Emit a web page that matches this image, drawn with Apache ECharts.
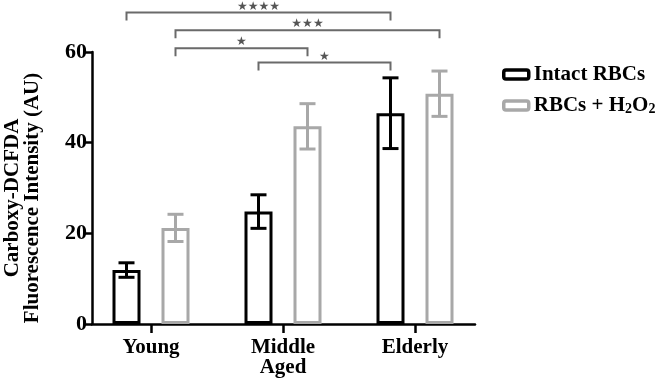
<!DOCTYPE html>
<html>
<head>
<meta charset="utf-8">
<script src="https://cdn.jsdelivr.net/npm/echarts@6/dist/echarts.min.js"></script>
<style>html,body{margin:0;padding:0;background:#fff}#c{width:665px;height:384px}</style>
</head>
<body>
<div id="c"></div>
<script>
// ---- data ----
const categories = ['Young', 'Middle\nAged', 'Elderly'];
const seriesNames = ['Intact RBCs', 'RBCs + H2O2'];
const intactMean = [11.9, 24.8, 46.5];
const intactErr = [1.6, 3.7, 7.8];
const h2o2Mean = [21.2, 43.6, 50.8];
const h2o2Err = [3.0, 5.0, 5.0];
const yTicks = [0, 20, 40, 60];
// significance brackets: [groupA, seriesA, groupB, seriesB]
const sigPairs = [[0, 0, 2, 0], [0, 1, 2, 1], [0, 1, 1, 1], [1, 0, 2, 0]];
const sigLevels = [68.7, 64.8, 60.8, 57.7];
const sigLabels = ['★★★★', '★★★', '★', '★'];

// ---- styles ----
const FONT = '"Liberation Serif", "Times New Roman", serif';
const BLACK = '#000000';
const GREY = '#a8a8a8';
const BRACKET = '#6a6a6a';
const BAR_W = 28, BAR_OFF = 24.5;

const chart = echarts.init(document.getElementById('c'), null, {renderer: 'canvas'});

const errData = [];
for (let i = 0; i < categories.length; i++) {
  errData.push([i, intactMean[i], intactErr[i], 0]);
  errData.push([i, h2o2Mean[i], h2o2Err[i], 1]);
}
const sigData = sigPairs.map((p, i) => [p[0], sigLevels[i], p[1], p[2], p[3], i]);

const option = {
  animation: false,
  backgroundColor: '#fff',
  grid: [
    {left: 92, right: 190, top: 52, bottom: 60},
    {left: 85, width: 396, top: 52, bottom: 60}
  ],
  xAxis: [
    {gridIndex: 0, type: 'value', min: 0, max: 1,
     axisLine: {show: true, lineStyle: {color: BLACK, width: 2.5}},
     axisTick: {show: false}, axisLabel: {show: false}, splitLine: {show: false}},
    {gridIndex: 1, type: 'category', data: categories, boundaryGap: true,
     axisLine: {show: false},
     axisTick: {show: true, alignWithLabel: true, length: 9, lineStyle: {color: BLACK, width: 2.5}},
     axisLabel: {margin: 14, fontFamily: FONT, fontWeight: 'bold', fontSize: 21, lineHeight: 20, color: BLACK},
     splitLine: {show: false}}
  ],
  yAxis: [
    {gridIndex: 0, type: 'value', min: 0, max: 60, interval: 20,
     axisLine: {show: true, lineStyle: {color: BLACK, width: 2.5}},
     axisTick: {show: true, length: 8, lineStyle: {color: BLACK, width: 2.5}},
     axisLabel: {margin: 5, fontFamily: FONT, fontWeight: 'bold', fontSize: 22, color: BLACK,
       formatter: v => yTicks.indexOf(v) >= 0 ? String(v) : ''},
     splitLine: {show: false}},
    {gridIndex: 1, type: 'value', min: 0, max: 60, show: false, splitLine: {show: false}}
  ],
  legend: {
    orient: 'vertical', left: 497, top: 59, itemGap: 10,
    itemWidth: 25, itemHeight: 9,
    data: [
      {name: seriesNames[0], itemStyle: {color: '#fff', borderColor: BLACK, borderWidth: 3.5}},
      {name: seriesNames[1], itemStyle: {color: '#fff', borderColor: GREY, borderWidth: 3.5}}
    ],
    formatter: n => n === 'RBCs + H2O2' ? 'RBCs + H{s|2}O{s|2}' : n,
    textStyle: {fontFamily: FONT, fontWeight: 'bold', fontSize: 21, color: BLACK,
      rich: {s: {fontFamily: FONT, fontWeight: 'bold', fontSize: 14, color: BLACK, verticalAlign: 'bottom', padding: [6, 0, 0, 0]}}}
  },
  graphic: [
    {type: 'text', x: 13, y: 198, rotation: Math.PI / 2,
     style: {text: 'Carboxy-DCFDA', font: 'bold 21px ' + FONT, fill: BLACK, align: 'center', verticalAlign: 'middle'}},
    {type: 'text', x: 33, y: 198, rotation: Math.PI / 2,
     style: {text: 'Fluorescence Intensity (AU)', font: 'bold 21px ' + FONT, fill: BLACK, align: 'center', verticalAlign: 'middle'}}
  ],
  series: [
    {name: seriesNames[0], type: 'bar', xAxisIndex: 1, yAxisIndex: 1, data: intactMean,
     barWidth: BAR_W, barGap: '75%',
     itemStyle: {color: '#fff', borderColor: BLACK, borderWidth: 3}},
    {name: seriesNames[1], type: 'bar', xAxisIndex: 1, yAxisIndex: 1, data: h2o2Mean,
     barWidth: BAR_W, barGap: '75%',
     itemStyle: {color: '#fff', borderColor: GREY, borderWidth: 3}},
    {type: 'custom', xAxisIndex: 1, yAxisIndex: 1, data: errData, clip: false, z: 5,
     encode: {x: 0, y: 1},
     renderItem: function (params, api) {
       const cat = api.value(0), m = api.value(1), e = api.value(2), s = api.value(3);
       const off = s === 0 ? -BAR_OFF : BAR_OFF;
       const top = api.coord([cat, m + e]);
       const bot = api.coord([cat, m - e]);
       const x = top[0] + off;
       const col = s === 0 ? BLACK : GREY;
       const st = {stroke: col, lineWidth: 3};
       return {type: 'group', children: [
         {type: 'line', shape: {x1: x, y1: top[1], x2: x, y2: bot[1]}, style: st},
         {type: 'line', shape: {x1: x - 8, y1: top[1], x2: x + 8, y2: top[1]}, style: st},
         {type: 'line', shape: {x1: x - 8, y1: bot[1], x2: x + 8, y2: bot[1]}, style: st}
       ]};
     }},
    {type: 'custom', xAxisIndex: 1, yAxisIndex: 1, data: sigData, clip: false, z: 5,
     encode: {x: 0, y: 1},
     renderItem: function (params, api) {
       const gA = api.value(0), lvl = api.value(1), sA = api.value(2), gB = api.value(3), sB = api.value(4), idx = api.value(5);
       const a = api.coord([gA, lvl]);
       const b = api.coord([gB, lvl]);
       const xA = a[0] + (sA === 0 ? -BAR_OFF : BAR_OFF);
       const xB = b[0] + (sB === 0 ? -BAR_OFF : BAR_OFF);
       const y = a[1];
       return {type: 'group', children: [
         {type: 'polyline', shape: {points: [[xA, y + 8], [xA, y], [xB, y], [xB, y + 8]]},
          style: {stroke: BRACKET, lineWidth: 2, fill: null}},
         {type: 'text', x: (xA + xB) / 2, y: y,
          style: {text: sigLabels[idx], font: '12px "DejaVu Sans"', fill: '#555', align: 'center', verticalAlign: 'bottom'}}
       ]};
     }}
  ]
};
chart.setOption(option);
</script>
</body>
</html>
